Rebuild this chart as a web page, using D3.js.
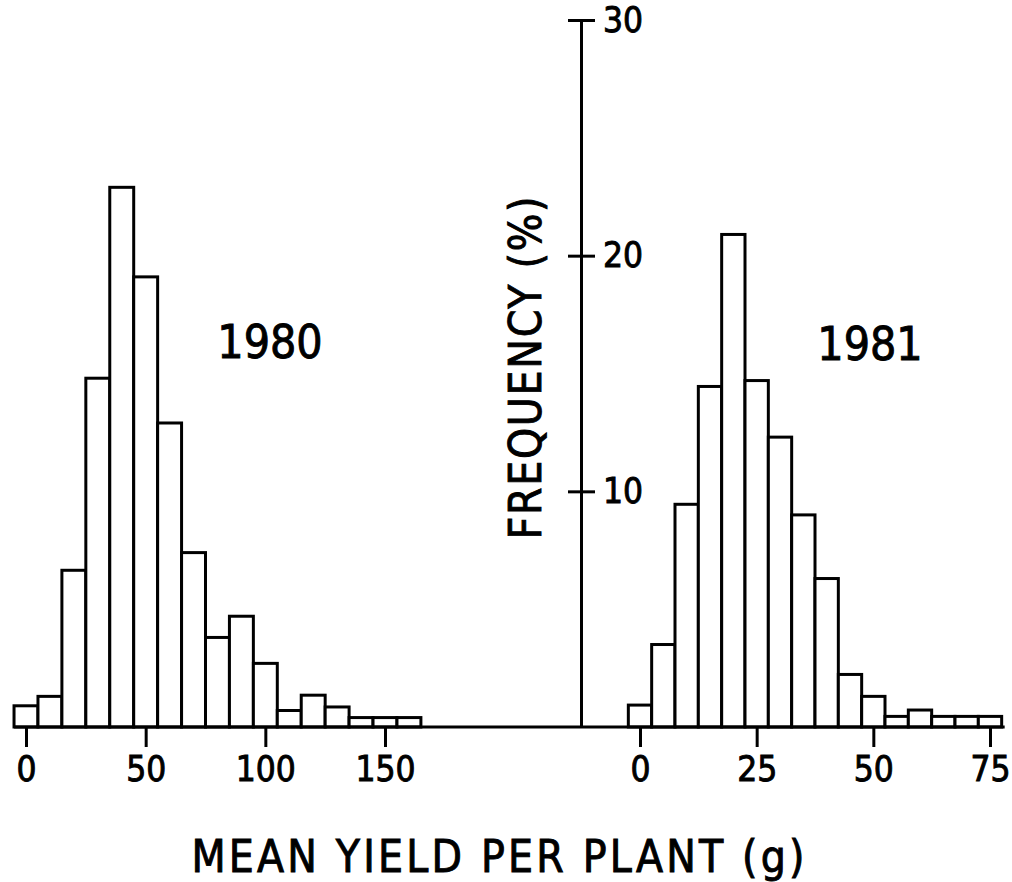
<!DOCTYPE html>
<html>
<head>
<meta charset="utf-8">
<script src="https://cdn.jsdelivr.net/npm/d3@7"></script>
<style>
  html, body { margin: 0; padding: 0; background: #fff; }
  svg { display: block; }
  text { font-family: "DejaVu Sans Condensed", "DejaVu Sans", sans-serif; fill: #000; stroke: #000; stroke-width: 0.9px; }
</style>
</head>
<body>
<svg id="chart" width="1012" height="882"></svg>
<script>
// ---- data ----
// 1980: bins of 10 g centred on 0,10,...,160 ; frequency (%)
const bins1980 = [0, 10, 20, 30, 40, 50, 60, 70, 80, 90, 100, 110, 120, 130, 140, 150, 160];
const freq1980 = [0.9, 1.3, 6.65, 14.8, 22.9, 19.1, 12.9, 7.4, 3.8, 4.7, 2.7, 0.7, 1.35, 0.85, 0.4, 0.4, 0.4];
// 1981: bins of 5 g centred on 0,5,...,75 ; frequency (%)
const bins1981 = [0, 5, 10, 15, 20, 25, 30, 35, 40, 45, 50, 55, 60, 65, 70, 75];
const freq1981 = [0.93, 3.5, 9.45, 14.45, 20.9, 14.7, 12.3, 9.0, 6.3, 2.23, 1.3, 0.45, 0.72, 0.45, 0.45, 0.45];
const ticks1980 = [0, 50, 100, 150];
const ticks1981 = [0, 25, 50, 75];
const yTicks = [10, 20, 30];
const binWidth1980 = 10;
const binWidth1981 = 5;
const label1980 = "1980";
const label1981 = "1981";
const xTitle = "MEAN YIELD PER PLANT (g)";
const yTitle = "FREQUENCY (%)";

// ---- layout ----
const svg = d3.select("#chart");
const baseY = 727;
const y = d3.scaleLinear().domain([0, 30]).range([baseY, 20]);
const xL = d3.scaleLinear().domain([0, 150]).range([26, 385]);
const xR = d3.scaleLinear().domain([0, 75]).range([640, 990]);
const yAxisX = 581;
const SW = 3;

function drawHist(bins, freqs, x, bw) {
  svg.append("g").selectAll("rect")
    .data(bins.map((b, i) => ({ b, f: freqs[i] })))
    .join("rect")
    .attr("x", d => x(d.b - bw / 2))
    .attr("width", d => x(d.b + bw / 2) - x(d.b - bw / 2))
    .attr("y", d => y(d.f))
    .attr("height", d => baseY - y(d.f))
    .attr("fill", "#fff")
    .attr("stroke", "#000")
    .attr("stroke-width", SW)
    .attr("stroke-linejoin", "miter");
}
drawHist(bins1980, freq1980, xL, binWidth1980);
drawHist(bins1981, freq1981, xR, binWidth1981);

// baseline
svg.append("line")
  .attr("x1", xL(-binWidth1980 / 2)).attr("x2", xR(75 + binWidth1981 / 2) + 3)
  .attr("y1", baseY).attr("y2", baseY)
  .attr("stroke", "#000").attr("stroke-width", SW);

// x axes
function xAxis(scale, vals) {
  const g = svg.append("g")
    .attr("transform", `translate(0,${baseY})`)
    .call(d3.axisBottom(scale).tickValues(vals).tickSize(20).tickSizeOuter(0).tickPadding(9));
  g.select(".domain").remove();
  g.selectAll(".tick line").attr("stroke", "#000").attr("stroke-width", SW);
  g.selectAll(".tick text")
    .attr("font-size", 35)
    .attr("font-family", '"DejaVu Sans Condensed", "DejaVu Sans", sans-serif')
    .attr("fill", "#000");
}
xAxis(xL, ticks1980);
xAxis(xR, ticks1981);

// y axis
const gy = svg.append("g")
  .attr("transform", `translate(${yAxisX},0)`)
  .call(d3.axisRight(y).tickValues(yTicks).tickSize(14).tickSizeOuter(0).tickPadding(8));
gy.select(".domain").attr("stroke", "#000").attr("stroke-width", SW);
gy.selectAll(".tick line").attr("x1", -13).attr("stroke", "#000").attr("stroke-width", SW);
gy.selectAll(".tick text")
  .attr("font-size", 35)
  .attr("font-family", '"DejaVu Sans Condensed", "DejaVu Sans", sans-serif')
  .attr("fill", "#000");

// year labels
svg.append("text").attr("x", 270).attr("y", 358).attr("text-anchor", "middle")
  .attr("font-size", 46).text(label1980);
svg.append("text").attr("x", 870).attr("y", 360).attr("text-anchor", "middle")
  .attr("font-size", 46).text(label1981);

// axis titles
svg.append("text").attr("x", 498).attr("y", 872).attr("text-anchor", "middle")
  .attr("font-size", 44).attr("textLength", 613).attr("lengthAdjust", "spacing")
  .text(xTitle);
svg.append("text")
  .attr("transform", `translate(541,368) rotate(-90)`)
  .attr("text-anchor", "middle")
  .attr("font-size", 44).attr("textLength", 343).attr("lengthAdjust", "spacing")
  .text(yTitle);
</script>
</body>
</html>
